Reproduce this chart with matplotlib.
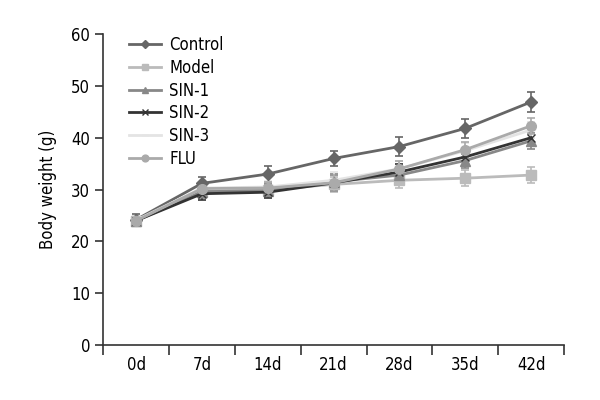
import numpy as np
import matplotlib.pyplot as plt

plt.rcParams['font.family'] = ['DejaVu Sans']
plt.rcParams['font.stretch'] = 'condensed'

days = ['0d', '7d', '14d', '21d', '28d', '35d', '42d']
control = [24.2, 31.2, 33.0, 36.0, 38.3, 41.8, 46.9]
model = [24.0, 29.6, 30.0, 31.0, 31.8, 32.2, 32.8]
sin1 = [24.0, 29.6, 29.8, 31.5, 32.8, 35.6, 39.4]
sin2 = [24.0, 29.2, 29.5, 31.3, 33.4, 36.3, 40.0]
sin3 = [24.1, 30.3, 30.5, 31.8, 34.0, 37.5, 41.5]
flu = [24.0, 30.2, 30.3, 31.3, 34.0, 37.7, 42.3]

err_control = [1.0, 1.2, 1.5, 1.5, 1.8, 1.8, 2.0]
err_model = [0.8, 1.2, 1.2, 1.5, 1.5, 1.5, 1.5]
err_sin1 = [0.8, 1.2, 1.2, 1.5, 1.5, 1.5, 1.5]
err_sin2 = [0.8, 1.2, 1.2, 1.5, 1.5, 1.5, 1.5]
err_sin3 = [0.8, 1.2, 1.2, 1.5, 1.5, 1.5, 1.5]
err_flu = [0.8, 1.2, 1.2, 1.5, 1.5, 1.5, 1.5]

series = [
    ('Control', control, err_control, '#666666', 'D', 6),
    ('Model', model, err_model, '#bbbbbb', 's', 7),
    ('SIN-1', sin1, err_sin1, '#888888', '^', 7),
    ('SIN-2', sin2, err_sin2, '#333333', 'x', 6),
    ('SIN-3', sin3, err_sin3, '#e4e4e4', '_', 6),
    ('FLU', flu, err_flu, '#aaaaaa', 'o', 7),
]

fig, ax = plt.subplots(figsize=(6, 4), dpi=100)
fig.subplots_adjust(left=0.172, right=0.94, top=0.915, bottom=0.137)

x = np.arange(len(days))
for name, vals, err, col, mk, ms in series:
    ax.errorbar(x, vals, yerr=err, color=col, marker=mk, markersize=ms,
                linewidth=2, capsize=3, elinewidth=1.2, capthick=1.2,
                markeredgecolor=col, label=name)

ax.set_xlim(-0.5, 6.5)
ax.set_ylim(0, 60)
ax.set_yticks(range(0, 61, 10))
ax.set_xticks(x)
ax.set_xticklabels(days)
ax.set_xticks(np.arange(-0.5, 7, 1), minor=True)
ax.tick_params(axis='x', which='major', length=0, labelsize=12, pad=8)
ax.tick_params(axis='x', which='minor', length=7, width=1.2, color='#333333')
ax.tick_params(axis='y', length=6, width=1.2, color='#333333', labelsize=12)
ax.set_ylabel('Body weight (g)', fontsize=12, labelpad=10)

for s in ['top', 'right']:
    ax.spines[s].set_visible(False)
for s in ['left', 'bottom']:
    ax.spines[s].set_color('#333333')
    ax.spines[s].set_linewidth(1.2)

handles, labels = ax.get_legend_handles_labels()
handles = [h[0] for h in handles]
leg = ax.legend(handles, labels, loc='upper left', bbox_to_anchor=(0.035, 1.025),
                frameon=False, fontsize=12, handlelength=1.9, handletextpad=0.5,
                labelspacing=0.28, borderaxespad=0.2, markerscale=0.7)

plt.savefig('out.png')
